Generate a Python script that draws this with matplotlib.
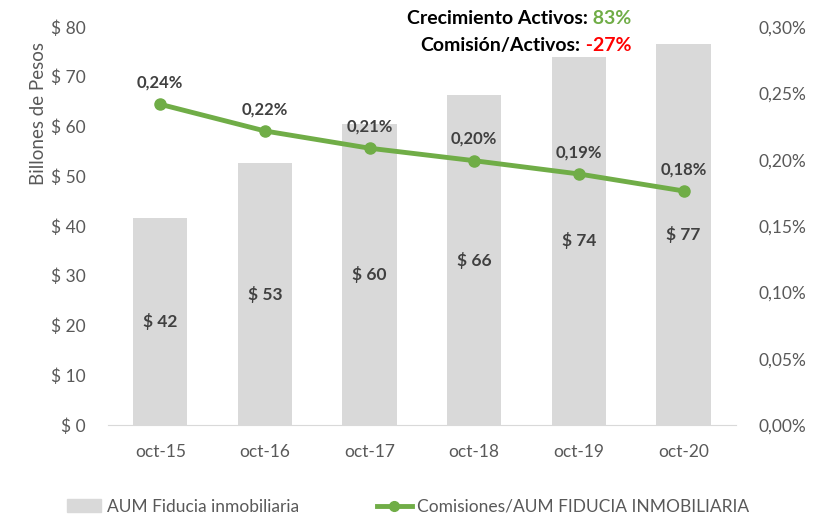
import matplotlib
matplotlib.use("Agg")
import matplotlib.pyplot as plt
from matplotlib.patches import Patch
from matplotlib.lines import Line2D

plt.rcParams['font.family'] = ['Lato', 'DejaVu Sans']

# data
periods = ['oct-15', 'oct-16', 'oct-17', 'oct-18', 'oct-19', 'oct-20']
aum = [41.7, 52.6, 60.4, 66.3, 74.0, 76.6]
aum_labels = ['$ 42', '$ 53', '$ 60', '$ 66', '$ 74', '$ 77']
comision = [0.2417, 0.2216, 0.2086, 0.1992, 0.1892, 0.1764]
comision_labels = ['0,24%', '0,22%', '0,21%', '0,20%', '0,19%', '0,18%']
left_ticks = [0, 10, 20, 30, 40, 50, 60, 70, 80]
right_ticks = [0, 0.05, 0.10, 0.15, 0.20, 0.25, 0.30]
summary = [('Crecimiento Activos:', ' 83%', '#70AD47'),
           ('Comisión/Activos:', ' -27%', '#FF0000')]

bar_color = '#D9D9D9'
line_color = '#70AD47'
tick_color = '#595959'
label_color = '#404040'

fig = plt.figure(figsize=(8.24, 5.18), dpi=100)
ax = fig.add_axes([0.131, 0.1795, 0.762, 0.7685])
x = range(len(periods))

ax.bar(x, aum, width=0.52, color=bar_color, zorder=1)
for i, (v, lab) in enumerate(zip(aum, aum_labels)):
    ax.text(i, v / 2, lab, ha='center', va='center', fontsize=12.5,
            fontweight='bold', color=label_color)

ax.set_xlim(-0.5, len(periods) - 0.5)
ax.set_ylim(0, 80)
ax.set_yticks(left_ticks)
ax.set_yticklabels(['$ %d' % t for t in left_ticks])
ax.set_xticks(list(x))
ax.set_xticklabels(periods)
ax.tick_params(axis='both', length=0, colors=tick_color, labelsize=12.5)
ax.tick_params(axis='y', pad=16)
ax.tick_params(axis='x', pad=14)
for s in ['top', 'right', 'left']:
    ax.spines[s].set_visible(False)
ax.spines['bottom'].set_color('#D9D9D9')

ax2 = ax.twinx()
ax2.plot(list(x), comision, color=line_color, lw=3.5, marker='o', ms=8, zorder=3)
for i, (v, lab) in enumerate(zip(comision, comision_labels)):
    ax2.annotate(lab, (i, v), xytext=(0, 10), textcoords='offset points',
                 ha='center', va='bottom', fontsize=12, fontweight='bold',
                 color=label_color)
ax2.set_ylim(0, 0.30)
ax2.set_yticks(right_ticks)
ax2.set_yticklabels([('%.2f%%' % t).replace('.', ',') for t in right_ticks])
ax2.tick_params(axis='y', length=0, colors=tick_color, labelsize=12.5, pad=16)
for s in ['top', 'right', 'left', 'bottom']:
    ax2.spines[s].set_visible(False)

fig.text(0.047, 0.78, 'Billones de Pesos', rotation=90, ha='center', va='center',
         fontsize=13.5, color=tick_color)

# summary text, right aligned, value coloured
fig.canvas.draw()
r = fig.canvas.get_renderer()
for (lab, val, col), y in zip(summary, [0.965, 0.912]):
    t = fig.text(0.766, y, val, ha='right', va='center', fontsize=14,
                 fontweight='bold', color=col)
    bb = t.get_window_extent(renderer=r)
    fig.text(bb.x0 / fig.bbox.width, y, lab, ha='right', va='center', fontsize=14,
             fontweight='bold', color='black')

handles = [Patch(color=bar_color),
           Line2D([0], [0], color=line_color, lw=3.5, marker='o', ms=7)]
leg = fig.legend(handles, ['AUM Fiducia inmobiliaria', 'Comisiones/AUM FIDUCIA INMOBILIARIA'],
                 loc='center', bbox_to_anchor=(0.495, 0.022), ncol=2, frameon=False,
                 fontsize=12.5, handlelength=2.0, handletextpad=0.3, columnspacing=4.5)
for t in leg.get_texts():
    t.set_color(tick_color)

fig.savefig('out.png', dpi=100)
